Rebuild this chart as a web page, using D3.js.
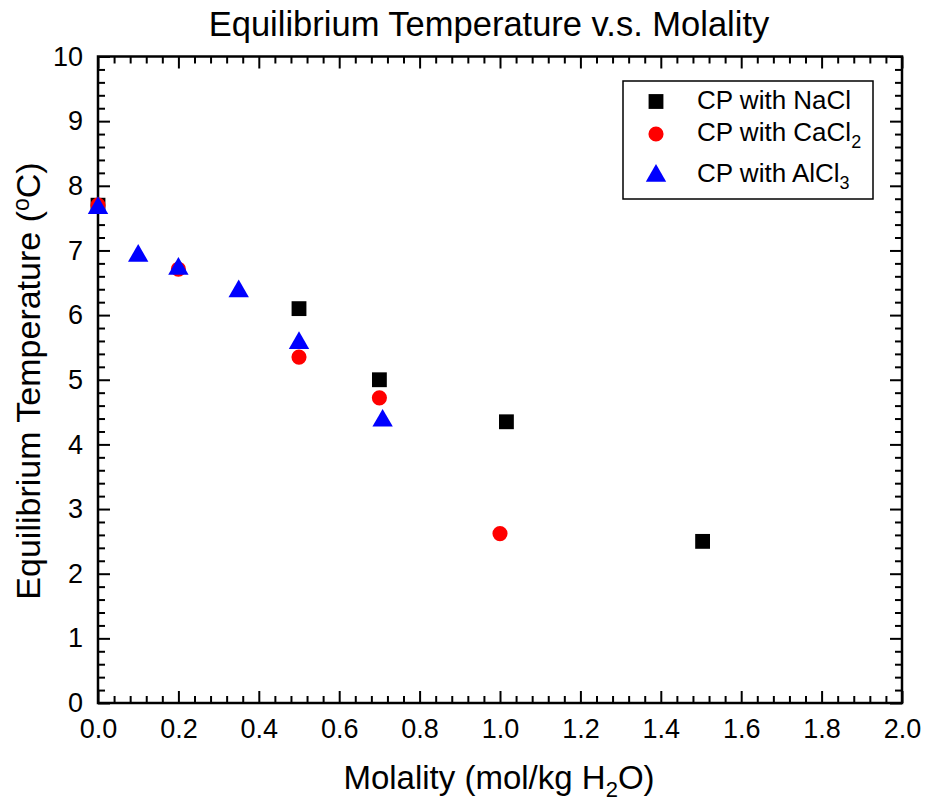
<!DOCTYPE html>
<html>
<head>
<meta charset="utf-8">
<script src="https://cdn.jsdelivr.net/npm/d3@7"></script>
<style>
  html, body { margin: 0; padding: 0; background: #fff; }
  svg { display: block; font-family: Arial, "Liberation Sans", sans-serif; }
</style>
</head>
<body>
<svg id="chart" width="928" height="803"></svg>
<script>
// Equilibrium temperature of CP hydrate with different salts
const naclMolality   = [0, 0.5, 0.7, 1.016, 1.504];
const naclTemp       = [7.7, 6.1, 5.0, 4.35, 2.5];
const cacl2Molality  = [0, 0.2, 0.5, 0.7, 1.0];
const cacl2Temp      = [7.7, 6.71, 5.35, 4.72, 2.62];
const alcl3Molality  = [0, 0.1, 0.2, 0.35, 0.5, 0.708];
const alcl3Temp      = [7.7, 6.96, 6.76, 6.41, 5.61, 4.41];
const xTickValues    = [0, 0.2, 0.4, 0.6, 0.8, 1.0, 1.2, 1.4, 1.6, 1.8, 2.0];
const yTickValues    = [0, 1, 2, 3, 4, 5, 6, 7, 8, 9, 10];

const svg = d3.select("#chart");
const plotLeft = 98, plotRight = 902, plotTop = 56.5, plotBottom = 703;

const x = d3.scaleLinear().domain([0, 2]).range([plotLeft, plotRight]);
const y = d3.scaleLinear().domain([0, 10]).range([plotBottom, plotTop]);

const minorX = d3.range(0, 2.0001, 0.04).filter(v => Math.abs(v / 0.2 - Math.round(v / 0.2)) > 1e-6);
const minorY = d3.range(0, 10.0001, 0.2).filter(v => Math.abs(v - Math.round(v)) > 1e-6);

function styleAxis(g) {
  g.select(".domain").remove();
  g.selectAll(".tick line").attr("stroke", "#000").attr("stroke-width", 2);
}

// Bottom axis: inward ticks with labels
svg.append("g").attr("transform", `translate(0,${plotBottom})`)
  .call(d3.axisBottom(x).tickValues(xTickValues).tickSize(-12).tickPadding(16).tickFormat(d3.format(".1f")))
  .call(styleAxis)
  .call(g => g.selectAll("text").attr("font-size", 27).attr("font-family", "Arial, 'Liberation Sans', sans-serif").attr("fill", "#000"));
svg.append("g").attr("transform", `translate(0,${plotBottom})`)
  .call(d3.axisBottom(x).tickValues(minorX).tickSize(-7).tickFormat(""))
  .call(styleAxis);

// Top axis: ticks only
svg.append("g").attr("transform", `translate(0,${plotTop})`)
  .call(d3.axisTop(x).tickValues(xTickValues).tickSize(-12).tickFormat(""))
  .call(styleAxis);
svg.append("g").attr("transform", `translate(0,${plotTop})`)
  .call(d3.axisTop(x).tickValues(minorX).tickSize(-7).tickFormat(""))
  .call(styleAxis);

// Left axis
svg.append("g").attr("transform", `translate(${plotLeft},0)`)
  .call(d3.axisLeft(y).tickValues(yTickValues).tickSize(-12).tickPadding(15).tickFormat(d3.format("d")))
  .call(styleAxis)
  .call(g => g.selectAll("text").attr("font-size", 27).attr("font-family", "Arial, 'Liberation Sans', sans-serif").attr("fill", "#000"));
svg.append("g").attr("transform", `translate(${plotLeft},0)`)
  .call(d3.axisLeft(y).tickValues(minorY).tickSize(-7).tickFormat(""))
  .call(styleAxis);

// Right axis: ticks only
svg.append("g").attr("transform", `translate(${plotRight},0)`)
  .call(d3.axisRight(y).tickValues(yTickValues).tickSize(-12).tickFormat(""))
  .call(styleAxis);
svg.append("g").attr("transform", `translate(${plotRight},0)`)
  .call(d3.axisRight(y).tickValues(minorY).tickSize(-7).tickFormat(""))
  .call(styleAxis);

// Frame
svg.append("rect").attr("x", plotLeft).attr("y", plotTop)
  .attr("width", plotRight - plotLeft).attr("height", plotBottom - plotTop)
  .attr("fill", "none").attr("stroke", "#000").attr("stroke-width", 2.5);

// Markers
const sq = d3.symbol().type(d3.symbolSquare).size(220);
const ci = d3.symbol().type(d3.symbolCircle).size(180);
const tri = d3.symbol().type(d3.symbolTriangle).size(180);
const triShift = 2.8; // move triangle centroid so its bounding box is centred on the value

const plot = svg.append("g");
function series(xs, ys, sym, color, dy) {
  plot.selectAll(null).data(xs.map((v, i) => [v, ys[i]])).join("path")
    .attr("d", sym)
    .attr("fill", color)
    .attr("transform", d => `translate(${x(d[0])},${y(d[1]) + (dy || 0)})`);
}
series(naclMolality, naclTemp, sq, "#000");
series(cacl2Molality, cacl2Temp, ci, "#ff0000");
series(alcl3Molality, alcl3Temp, tri, "#0000ff", triShift);

// Legend
const lg = svg.append("g");
lg.append("rect").attr("x", 623).attr("y", 81).attr("width", 250).attr("height", 118)
  .attr("fill", "#fff").attr("stroke", "#000").attr("stroke-width", 1.5);
const legendRows = [
  { sym: sq, color: "#000", y: 101.5, base: 109, label: "CP with NaCl", sub: "" },
  { sym: ci, color: "#ff0000", y: 134, base: 141, label: "CP with CaCl", sub: "2" },
  { sym: tri, color: "#0000ff", y: 173, base: 182, label: "CP with AlCl", sub: "3" }
];
legendRows.forEach(r => {
  lg.append("path").attr("d", r.sym).attr("fill", r.color)
    .attr("transform", `translate(656,${r.y + (r.sym === tri ? triShift : 0)})`);
  const t = lg.append("text").attr("x", 697).attr("y", r.base)
    .attr("font-size", 26).attr("fill", "#000");
  t.append("tspan").text(r.label);
  if (r.sub) t.append("tspan").attr("font-size", 18).attr("dy", 7).text(r.sub);
});

// Title
svg.append("text").attr("x", 489).attr("y", 36).attr("text-anchor", "middle")
  .attr("font-size", 34.5).attr("fill", "#000").text("Equilibrium Temperature v.s. Molality");

// X axis title
const xt = svg.append("text").attr("x", 499).attr("y", 789).attr("text-anchor", "middle")
  .attr("font-size", 33).attr("fill", "#000");
xt.append("tspan").text("Molality (mol/kg H");
xt.append("tspan").attr("font-size", 22).attr("dy", 8).text("2");
xt.append("tspan").attr("dy", -8).text("O)");

// Y axis title
const yt = svg.append("text").attr("transform", `translate(40,381) rotate(-90)`)
  .attr("text-anchor", "middle").attr("font-size", 34).attr("fill", "#000");
yt.append("tspan").text("Equilibrium Temperature (");
yt.append("tspan").attr("font-size", 23).attr("dy", -11).text("o");
yt.append("tspan").attr("dy", 11).text("C)");
</script>
</body>
</html>
